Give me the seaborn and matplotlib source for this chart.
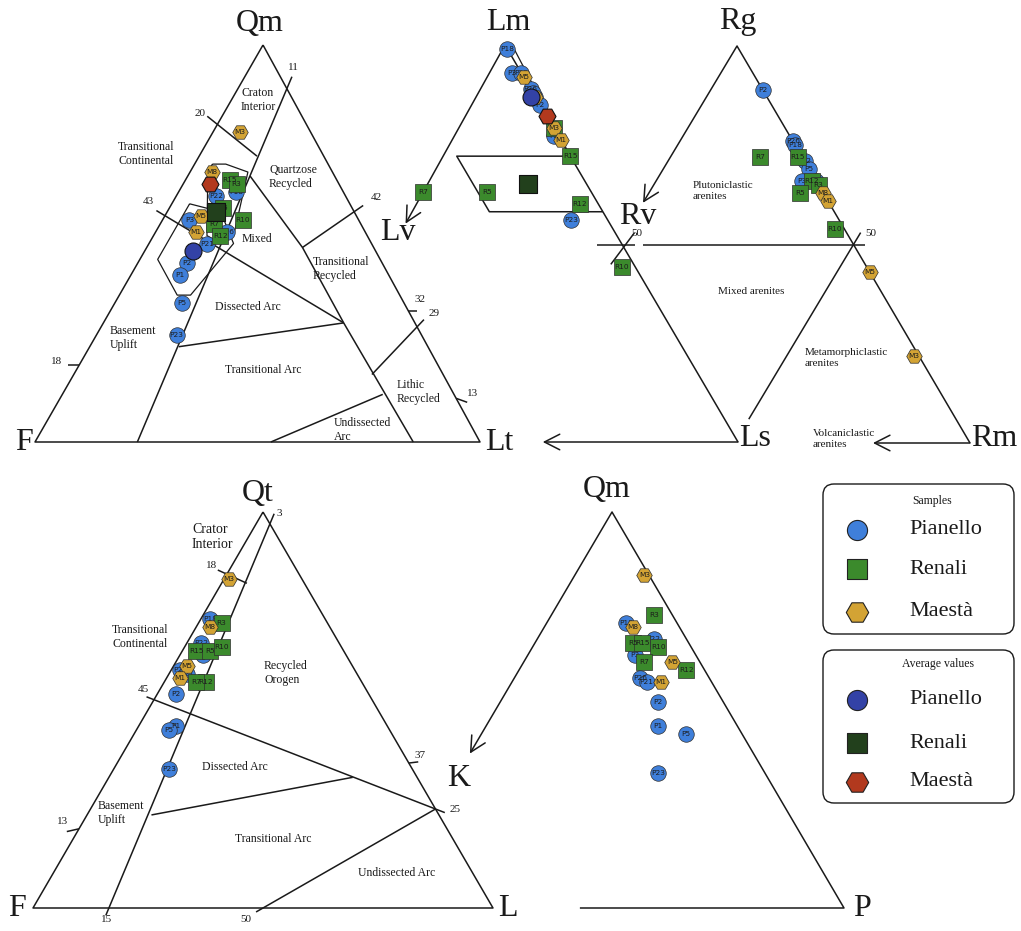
import numpy as np
import pandas as pd
import matplotlib
matplotlib.use("Agg")
import matplotlib.pyplot as plt
import seaborn as sns
from matplotlib.patches import FancyBboxPatch

SITES = ["Pianello", "Renali", "Maestà"]

# QmFLt (% Qm, F, Lt)
QMFLT_LABEL = ["P18", "P22", "P3", "P26", "P21", "P2", "P1", "P5", "P23",
               "R15", "R3", "R5", "R10", "R7", "R12",
               "M3", "M8", "M5", "M1"]
QMFLT_QM = [63, 62, 56, 53, 50, 45, 42, 35, 27, 66, 65, 59, 56, 55, 52, 78, 68, 57, 53]
QMFLT_F = [24, 29, 38, 31, 37, 44, 47, 50, 55, 24, 23, 29, 26, 33, 33, 16, 27, 35, 38]
QMFLT_LT = [13, 9, 6, 16, 13, 11, 11, 15, 18, 10, 12, 12, 18, 12, 15, 6, 5, 8, 9]
QMFLT_AVG_QM = [48, 58, 65]
QMFLT_AVG_F = [41, 31, 29]
QMFLT_AVG_LT = [11, 11, 6]

# LmLvLs (% Lm, Lv, Ls)
LM_LABEL = ["P18", "P3", "P22", "P26", "P21", "P2", "P1", "P5", "P23",
            "R3", "R15", "R7", "R5", "R12", "R10",
            "M5", "M8", "M3", "M1"]
LM_LM = [99, 93, 93, 89, 87, 85, 88, 77, 56, 79, 72, 63, 63, 60, 44, 92, 87, 79, 76]
LM_LV = [0, 2, 0, 0, 0, 0, 0, 1, 8, 0, 0, 37, 23, 4, 3, 0, 0, 0, 0]
LM_LS = [1, 5, 7, 11, 13, 15, 12, 22, 36, 21, 28, 0, 14, 36, 53, 8, 13, 21, 24]
LM_AVG_LM = [87, 65, 82]
LM_AVG_LV = [1, 13, 0]
LM_AVG_LS = [12, 22, 18]

# RgRvRm (% Rg, Rv, Rm)
RG_LABEL = ["P2", "P26", "P18", "P22", "P5", "P3", "P21",
            "R15", "R12", "R3", "R5", "R7", "R10",
            "M8", "M1", "M5", "M3"]
RG_RG = [89, 76, 75, 71, 69, 66, 66, 72, 66, 65, 63, 72, 54, 63, 61, 43, 22]
RG_RV = [0, 0, 0, 0, 0, 3, 0, 1, 1, 0, 5, 9, 2, 0, 0, 0, 1]
RG_RM = [11, 24, 25, 29, 31, 31, 34, 27, 33, 35, 32, 19, 44, 37, 39, 57, 77]

# QtFL (% Qt, F, L)
QTFL_LABEL = ["P18", "P22", "P3", "P26", "P21", "P2", "P1", "P5", "P23",
              "R3", "R15", "R5", "R10", "R12", "R7",
              "M3", "M8", "M5", "M1"]
QTFL_QT = [73, 67, 64, 60, 59, 54, 46, 45, 35, 72, 65, 65, 66, 57, 57, 83, 71, 61, 58]
QTFL_F = [25, 30, 31, 38, 37, 42, 46, 48, 53, 23, 32, 29, 26, 34, 36, 16, 26, 36, 39]
QTFL_L = [2, 3, 5, 2, 4, 4, 8, 7, 12, 5, 3, 6, 8, 9, 7, 1, 3, 3, 3]

# QmPK (% Qm, K, P)
QMPK_LABEL = ["P18", "P22", "P3", "P26", "P21", "P2", "P1", "P5", "P23",
              "R3", "R5", "R15", "R10", "R7", "R12",
              "M3", "M8", "M5", "M1"]
QMPK_QM = [72, 68, 64, 58, 57, 52, 46, 44, 34, 74, 67, 67, 66, 62, 60, 84, 71, 62, 57]
QMPK_K = [11, 7, 13, 15, 14, 14, 17, 12, 23, 4, 12, 10, 7, 12, 4, 1, 10, 6, 11]
QMPK_P = [17, 25, 23, 27, 29, 34, 37, 44, 43, 22, 21, 23, 27, 26, 36, 15, 19, 32, 32]

# styling
COLORS = {"Pianello": "#3f7fda", "Renali": "#3b8a2c", "Maestà": "#d3a334"}
AVG_COLORS = {"Pianello": "#3342a6", "Renali": "#22401c", "Maestà": "#b2391e"}
MARKERS = {"Pianello": "o", "Renali": "s", "Maestà": "H"}
SITE_OF = {"P": "Pianello", "R": "Renali", "M": "Maestà"}
INK = "#1a1a1a"
LW = 1.1
SERIF = ["Liberation Serif", "DejaVu Serif"]

# triangle corners in figure pixels (top, left, right)
TRI_QMFLT = [(263, 45), (35, 442), (480, 442)]
TRI_LM = [(505, 45), (284, 442), (738, 442)]
TRI_RG = [(737, 46), (499, 443), (970, 443)]
TRI_QTFL = [(263, 512), (33, 908), (493, 908)]
TRI_QMPK = [(612, 512), (379, 908), (844, 908)]

sns.set_theme(style="white")
plt.rcParams["font.family"] = SERIF

fig = plt.figure(figsize=(10.21, 9.31), dpi=100)
ax = fig.add_axes([0, 0, 1, 1])


def to_xy(tri, a, b, c):
    a, b, c = (np.atleast_1d(np.asarray(v, float)) for v in (a, b, c))
    s = a + b + c
    (xt, yt), (xl, yl), (xr, yr) = tri
    return (a * xt + b * xl + c * xr) / s, (a * yt + b * yl + c * yr) / s


def tline(tri, pts, ext0=0, ext1=0, lw=LW):
    a, b, c = zip(*pts)
    x, y = to_xy(tri, a, b, c)
    x, y = list(x), list(y)
    if ext0:
        d = np.hypot(x[0] - x[1], y[0] - y[1])
        x[0] += (x[0] - x[1]) / d * ext0
        y[0] += (y[0] - y[1]) / d * ext0
    if ext1:
        d = np.hypot(x[-1] - x[-2], y[-1] - y[-2])
        x[-1] += (x[-1] - x[-2]) / d * ext1
        y[-1] += (y[-1] - y[-2]) / d * ext1
    ax.plot(x, y, color=INK, lw=lw, solid_capstyle="butt", zorder=2)


def tarrow(tri, start, tip):
    x0, y0 = to_xy(tri, *start)
    x1, y1 = to_xy(tri, *tip)
    ax.annotate("", xy=(x1[0], y1[0]), xytext=(x0[0], y0[0]),
                arrowprops=dict(arrowstyle="->,head_length=0.55,head_width=0.28",
                                lw=LW, color=INK, mutation_scale=20,
                                shrinkA=0, shrinkB=0), zorder=2)


def txt(x, y, s, size=8.5, ha="center", **kw):
    ax.text(x, y, s, fontsize=size, ha=ha, va="center", color=INK,
            linespacing=1.15, zorder=6, **kw)


def plot_samples(tri, labels, a, b, c):
    x, y = to_xy(tri, a, b, c)
    df = pd.DataFrame({"x": x, "y": y, "label": labels,
                       "site": [SITE_OF[l[0]] for l in labels]})
    for i, site in enumerate(SITES):
        sub = df[df["site"] == site]
        sns.scatterplot(data=sub, x="x", y="y", marker=MARKERS[site],
                        color=COLORS[site], s=125, edgecolor="#2e2e2e",
                        linewidth=0.5, zorder=3 + i, ax=ax, legend=False)
        for _, r in sub.iterrows():
            ax.text(r["x"], r["y"], r["label"], fontsize=5.3, ha="center",
                    va="center", color="#1c1c1c", family="DejaVu Sans",
                    zorder=3.5 + i)


def plot_averages(tri, a, b, c):
    x, y = to_xy(tri, a, b, c)
    df = pd.DataFrame({"x": x, "y": y, "site": SITES})
    for site in SITES:
        sns.scatterplot(data=df[df["site"] == site], x="x", y="y",
                        marker=MARKERS[site], color=AVG_COLORS[site], s=150,
                        edgecolor="#111111", linewidth=0.8, zorder=5.5,
                        ax=ax, legend=False)


# ---------------- QmFLt ----------------
T = TRI_QMFLT
tline(T, [(100, 0, 0), (0, 100, 0), (0, 0, 100), (100, 0, 0)])
tline(T, [(89, 0, 11), (0, 77, 23)], ext0=13)
tline(T, [(80, 20, 0), (72, 15, 13)], ext0=13)
tline(T, [(67, 19, 14), (49, 16, 35), (30, 16, 54), (0, 15, 85)])
tline(T, [(58, 0, 42), (49, 16, 35)], ext0=11)
tline(T, [(57, 43, 0), (30, 16, 54)], ext0=10)
tline(T, [(24, 56, 20), (30, 16, 54)])
tline(T, [(29, 0, 71), (17, 16, 67)], ext0=10)
tline(T, [(12, 16, 72), (0, 47, 53)])
tline(T, [(19.5, 80.5, 0), (19.5, 83, -2.5)])
tline(T, [(33, 0, 67), (33, -2, 69)])
tline(T, [(11, 0, 89), (10, -2, 92)])
# fields of the sample groups
tline(T, [(70, 26, 4), (70, 23, 7), (68, 19, 13), (52, 30, 18), (50, 34, 16),
          (52, 36, 12), (68, 28, 4), (70, 26, 4)], lw=0.9)
tline(T, [(60, 36, 4), (58, 30, 12), (50, 31, 19), (37, 47, 16), (37, 50, 13),
          (46, 50, 4), (60, 36, 4)], lw=0.9)
plot_samples(T, QMFLT_LABEL, QMFLT_QM, QMFLT_F, QMFLT_LT)
plot_averages(T, QMFLT_AVG_QM, QMFLT_AVG_F, QMFLT_AVG_LT)

txt(260, 24, "Qm", size=23)
txt(24, 442, "F", size=23)
txt(499, 442, "Lt", size=23)
for x, y, s in [(293, 67, "11"), (200, 113, "20"), (148, 201, "43"), (57, 361, "18"),
                (376, 197, "42"), (420, 300, "32"), (434, 313, "29"), (473, 393, "13")]:
    txt(x, y, s, size=8)
txt(241, 100, "Craton\nInterior", size=8.5, ha="left")
txt(118, 154, "Transitional\nContinental", size=8.5, ha="left")
txt(269, 177, "Quartzose\nRecycled", size=8.5, ha="left")
txt(257, 239, "Mixed", size=8.5)
txt(313, 269, "Transitional\nRecycled", size=8.5, ha="left")
txt(248, 307, "Dissected Arc", size=8.5)
txt(110, 338, "Basement\nUplift", size=8.5, ha="left")
txt(263, 370, "Transitional Arc", size=8.5)
txt(397, 392, "Lithic\nRecycled", size=8.5, ha="left")
txt(334, 430, "Undissected\nArc", size=8.5, ha="left")

# ---------------- LmLvLs ----------------
T = TRI_LM
tline(T, [(100, 0, 0), (0, 0, 100)])
tarrow(T, (100, 0, 0), (55, 45, 0))
tarrow(T, (0, 0, 100), (0, 43, 57))
tline(T, [(72, 0, 28), (72, 25, 3), (58, 25, 17), (58, 0, 42)])
tline(T, [(99, -1.5, 2.5), (72, 0, 28)], lw=0.9)
plot_samples(T, LM_LABEL, LM_LM, LM_LV, LM_LS)
plot_averages(T, LM_AVG_LM, LM_AVG_LV, LM_AVG_LS)
txt(508, 22, "Lm", size=23)
txt(398, 233, "Lv", size=23)
txt(755, 438, "Ls", size=23)

# ---------------- RgRvRm ----------------
T = TRI_RG
tline(T, [(100, 0, 0), (0, 0, 100)])
tarrow(T, (100, 0, 0), (60.5, 39.5, 0))
tarrow(T, (0, 0, 100), (0, 20.6, 79.4))
tline(T, [(50, 54.5, -4.5), (50, 46.4, 3.6)])
tline(T, [(50, 44.7, 5.3), (50, -2.4, 52.4)])
tline(T, [(53, 45, 2), (45, 54, 1)])
tline(T, [(53, -3, 50), (6, 44, 50)])
plot_samples(T, RG_LABEL, RG_RG, RG_RV, RG_RM)
txt(738, 21, "Rg", size=23)
txt(638, 217, "Rv", size=23)
txt(994, 438, "Rm", size=23)
txt(637, 234, "50", size=8)
txt(871, 234, "50", size=8)
txt(693, 191, "Plutoniclastic\narenites", size=8, ha="left")
txt(751, 292, "Mixed arenites", size=8)
txt(805, 358, "Metamorphiclastic\narenites", size=8, ha="left")
txt(813, 439, "Volcaniclastic\narenites", size=8, ha="left")

# ---------------- QtFL ----------------
T = TRI_QTFL
tline(T, [(100, 0, 0), (0, 100, 0), (0, 0, 100), (100, 0, 0)])
tline(T, [(97, 0, 3), (0, 83.5, 16.5)], ext0=11, ext1=8)
tline(T, [(84.3, 15.7, 0), (82, 12.5, 5.5)], ext0=10)
tline(T, [(52.6, 47.4, 0), (25, 0, 75)], ext0=8, ext1=10)
tline(T, [(23.5, 62.5, 14), (33, 14, 53)])
tline(T, [(0, 50, 50), (25, 0, 75)], ext0=8)
tline(T, [(36.6, 0, 63.4), (36.9, -2.2, 65.3)])
tline(T, [(20, 80, 0), (19.3, 83, -2.3)])
plot_samples(T, QTFL_LABEL, QTFL_QT, QTFL_F, QTFL_L)
txt(258, 493, "Qt", size=23)
txt(17, 908, "F", size=23)
txt(508, 908, "L", size=23)
for x, y, s in [(279, 513, "3"), (212, 566, "18"), (143, 689, "45"), (420, 755, "37"),
                (63, 822, "13"), (455, 810, "25"), (107, 919, "15"), (246, 919, "50")]:
    txt(x, y, s, size=8)
txt(192, 537, "Crator\nInterior", size=10, ha="left")
txt(112, 637, "Transitional\nContinental", size=8.5, ha="left")
txt(264, 673, "Recycled\nOrogen", size=8.5, ha="left")
txt(235, 767, "Dissected Arc", size=8.5)
txt(98, 813, "Basement\nUplift", size=8.5, ha="left")
txt(273, 839, "Transitional Arc", size=8.5)
txt(397, 873, "Undissected Arc", size=8.5)

# ---------------- QmPK ----------------
T = TRI_QMPK
tline(T, [(100, 0, 0), (0, 0, 100), (0, 56.8, 43.2)])
tarrow(T, (100, 0, 0), (39, 61, 0))
plot_samples(T, QMPK_LABEL, QMPK_QM, QMPK_K, QMPK_P)
txt(607, 490, "Qm", size=23)
txt(459, 779, "K", size=23)
txt(862, 908, "P", size=23)

# ---------------- legend boxes ----------------
for (x0, y0, x1, y1), title, cols, ty in [
        ((823, 484, 1014, 634), "Samples", COLORS, 501),
        ((823, 650, 1014, 803), "Average values", AVG_COLORS, 664)]:
    ax.add_patch(FancyBboxPatch((x0, y0), x1 - x0, y1 - y0,
                                boxstyle="round,pad=0,rounding_size=11",
                                fc="white", ec=INK, lw=1.0, zorder=1))
    txt(932 if title == "Samples" else 938, ty, title, size=8.5)
    rows = [530, 569, 612] if title == "Samples" else [700, 743, 782]
    for site, yy in zip(SITES, rows):
        ax.scatter([857], [yy], marker=MARKERS[site], s=210 if site != "Maestà" else 260,
                   color=cols[site], edgecolor="#222222", linewidth=0.8, zorder=3)
        txt(909, yy, site, size=16, ha="left")

ax.set_xlim(0, 1021)
ax.set_ylim(931, 0)
ax.set_axis_off()
fig.savefig("out.png", dpi=100, facecolor="white")
